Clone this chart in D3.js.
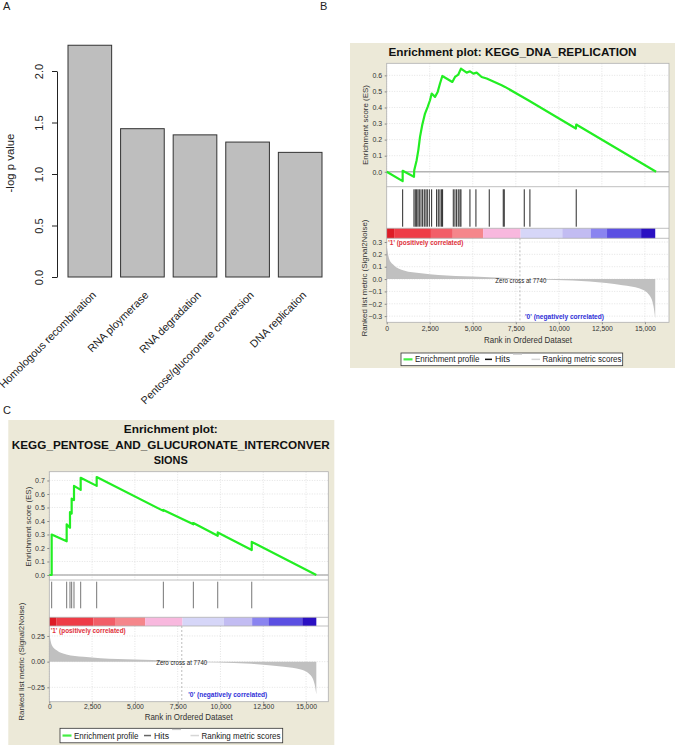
<!DOCTYPE html>
<html><head><meta charset="utf-8">
<script src="https://cdn.jsdelivr.net/npm/d3@7"></script>
<style>
body{margin:0;background:#fff}
svg{display:block;font-family:Arial,"Liberation Sans",Helvetica,sans-serif}
</style>
</head><body>
<svg id="c" width="675" height="745"></svg>
<script>
// ---------- Panel A data ----------
const categories = ["Homologous recombination","RNA ploymerase","RNA degradation","Pentose/glucoronate conversion","DNA replication"];
const negLogP = [2.25, 1.44, 1.38, 1.31, 1.21];
const yTicksA = [0, 0.5, 1.0, 1.5, 2.0];

// ---------- shared GSEA data ----------
const rankTicks = [0, 2500, 5000, 7500, 10000, 12500, 15000];
const metricRank = [0, 150, 430, 1000, 2000, 3000, 5000, 7000, 7740, 9800, 11800, 13700, 14700, 15250, 15500, 15600];
const metricVal  = [0.27, 0.16, 0.11, 0.07, 0.047, 0.033, 0.02, 0.008, 0, -0.008, -0.02, -0.05, -0.077, -0.13, -0.22, -0.32];
const zeroCross = 7740;
const bandEdges  = [0, 430, 2570, 3840, 5600, 7780, 10200, 11850, 12800, 14780, 15600];
const bandColors = ["#dd1c26","#ee3c47","#f25e68","#f5868b","#f8b8de","#d6d6f8","#c2bcf2","#8a84f0","#5b4fe2","#2a10c2"];

// ---------- Panel B data (KEGG_DNA_REPLICATION) ----------
const esTicksB = [0.0, 0.1, 0.2, 0.3, 0.4, 0.5, 0.6];
const metricTicksB = [-0.3, -0.2, -0.1, 0.0, 0.1, 0.2, 0.3];
const hitsB = [927,1585,1662,1740,1817,1895,1992,2088,2185,2282,2359,2475,2610,2900,2997,3094,3190,3248,3868,3965,4062,4158,4255,4313,4836,5184,5958,6771,6829,7991,8320,11010];
const esRankB = [0,927,927,1585,1600,1740,1838,1935,2070,2226,2381,2516,2613,2807,2961,3097,3232,3813,3968,4162,4313,4646,4840,5034,5227,5517,5808,6680,6873,8224,10990,11010,15650];
const esValB  = [0,-0.058,0.006,-0.031,0.01,0.072,0.135,0.217,0.294,0.362,0.404,0.445,0.487,0.466,0.497,0.549,0.596,0.559,0.590,0.605,0.642,0.617,0.625,0.611,0.617,0.590,0.580,0.538,0.528,0.445,0.269,0.294,0];

// ---------- Panel C data (KEGG_PENTOSE_AND_GLUCURONATE_INTERCONVERSIONS) ----------
const esTicksC = [0.0, 0.1, 0.2, 0.3, 0.4, 0.5, 0.6, 0.7];
const metricTicksC = [-0.25, 0.0, 0.25];
const hitsC = [138,1015,1209,1307,1443,1833,2768,6663,8416,9840,11827];
const esRankC = [0,138,138,1015,1015,1209,1209,1307,1307,1443,1443,1833,1833,2768,2768,6663,6663,8416,8416,9840,9840,11827,11827,15600];
const esValC  = [0,0,0.30,0.25,0.375,0.35,0.465,0.455,0.565,0.555,0.66,0.63,0.72,0.66,0.725,0.475,0.482,0.375,0.385,0.29,0.315,0.185,0.245,0];

const svg = d3.select("#c");

function T(g, x, y, s, o = {}) {
  const t = g.append("text").attr("x", x).attr("y", y).text(s)
    .attr("font-size", o.size || 8).attr("fill", o.fill || "#222")
    .attr("text-anchor", o.anchor || "start");
  if (o.weight) t.attr("font-weight", o.weight);
  if (o.len) t.attr("textLength", o.len).attr("lengthAdjust", "spacingAndGlyphs");
  if (o.rot) t.attr("transform", `rotate(${o.rot},${x},${y})`);
  if (o.dy) t.attr("dy", o.dy);
  return t;
}

// ================= Panel A =================
(function () {
  const g = svg.append("g");
  T(g, 3, 10, "A", {size: 11});
  const x = d3.scaleBand().domain(categories).range([68, 322]).paddingInner(0.17).paddingOuter(0);
  const y = d3.scaleLinear().domain([0, 2]).range([277, 71]);
  g.selectAll("rect.bar").data(categories).join("rect").attr("class", "bar")
    .attr("x", d => x(d)).attr("width", x.bandwidth())
    .attr("y", (d, i) => y(negLogP[i])).attr("height", (d, i) => y(0) - y(negLogP[i]))
    .attr("fill", "#bebebe").attr("stroke", "#333").attr("stroke-width", 1);
  const ax = g.append("g").attr("transform", "translate(57,0)")
    .call(d3.axisLeft(y).tickValues(yTicksA).tickFormat(d3.format(".1f")).tickSize(5).tickSizeOuter(0));
  ax.select(".domain").attr("stroke", "#222");
  ax.selectAll(".tick line").attr("stroke", "#222");
  ax.selectAll(".tick text").attr("transform", "rotate(-90)").attr("x", 0).attr("y", -14).attr("dy", 0)
    .attr("text-anchor", "middle").attr("font-size", 11).attr("fill", "#222").attr("font-family", null);
  T(g, 14, 163, "-log p value", {size: 11.4, anchor: "middle", rot: -90});
  categories.forEach(c => {
    const cx = x(c) + x.bandwidth() / 2 + 3;
    T(g, cx, 292, c, {size: 10.8, anchor: "end", rot: -45, dy: "0.5em"});
  });
  T(g, 320, 10, "B", {size: 11});
  T(g, 3, 414, "C", {size: 11});
})();

// ================= GSEA panels =================
function gsea(o) {
  const g = svg.append("g");
  g.append("rect").attr("x", o.box[0]).attr("y", o.box[1]).attr("width", o.box[2]).attr("height", o.box[3]).attr("fill", "#ece9d8");
  o.title.forEach((t, i) => T(g, o.titleX, o.titleY[i], t, {size: 11.7, weight: "bold", anchor: "middle", fill: "#111", len: o.titleLen[i]}));

  const x = d3.scaleLinear().domain([0, o.xMax]).range([o.L, o.R]);
  const yE = d3.scaleLinear().domain(o.esDom).range([o.esBot, o.esTop]);
  const yM = d3.scaleLinear().domain(o.mDom).range([o.mBot, o.barBot]);

  g.append("rect").attr("x", o.L).attr("y", o.esTop).attr("width", o.R - o.L).attr("height", o.mBot - o.esTop)
    .attr("fill", "#fff");

  const grid = g.append("g").attr("stroke", "#d8d8d8").attr("stroke-width", 0.7).attr("stroke-dasharray", "1,1.5");
  rankTicks.forEach(t => {
    grid.append("line").attr("x1", x(t)).attr("x2", x(t)).attr("y1", o.esTop).attr("y2", o.esBot);
    grid.append("line").attr("x1", x(t)).attr("x2", x(t)).attr("y1", o.barBot).attr("y2", o.mBot);
  });
  o.esTicks.forEach(t => grid.append("line").attr("x1", o.L).attr("x2", o.R).attr("y1", yE(t)).attr("y2", yE(t)));
  o.mTicks.forEach(t => grid.append("line").attr("x1", o.L).attr("x2", o.R).attr("y1", yM(t)).attr("y2", yM(t)));

  // ES zero line
  g.append("line").attr("x1", o.L).attr("x2", o.R).attr("y1", yE(0)).attr("y2", yE(0)).attr("stroke", "#b4b4b4").attr("stroke-width", 1.5);

  // metric area
  const area = d3.area().x((d, i) => x(metricRank[i])).y0(yM(0)).y1((d, i) => yM(d)).curve(d3.curveMonotoneX);
  g.append("path").datum(metricVal).attr("d", area).attr("fill", "#c0c0c0");

  // zero cross dashed line
  g.append("line").attr("x1", x(zeroCross)).attr("x2", x(zeroCross)).attr("y1", o.barBot).attr("y2", o.mBot)
    .attr("stroke", "#aaa").attr("stroke-width", 0.8).attr("stroke-dasharray", "2,2");

  // color bar
  bandColors.forEach((c, i) => {
    g.append("rect").attr("x", x(bandEdges[i])).attr("width", x(bandEdges[i + 1]) - x(bandEdges[i]))
      .attr("y", o.barTop).attr("height", o.barBot - o.barTop).attr("fill", c);
  });

  // hits
  g.append("g").selectAll("line").data(o.hits).join("line")
    .attr("x1", d => x(d)).attr("x2", d => x(d)).attr("y1", o.hitTop).attr("y2", o.hitBot)
    .attr("stroke", o.hitColor).attr("stroke-width", 0.9);

  // panel separators and frame
  const sep = g.append("g").attr("stroke", "#b0b0b0").attr("stroke-width", 0.8).attr("fill", "none");
  sep.append("rect").attr("x", o.L).attr("y", o.esTop).attr("width", o.R - o.L).attr("height", o.mBot - o.esTop);
  [o.esBot, o.barTop, o.barBot].forEach(yy => sep.append("line").attr("x1", o.L).attr("x2", o.R).attr("y1", yy).attr("y2", yy));

  // ES line
  const line = d3.line().x((d, i) => x(o.esRank[i])).y(d => yE(d));
  g.append("path").datum(o.esVal).attr("d", line).attr("fill", "none").attr("stroke", "#22ee22")
    .attr("stroke-width", 2.2).attr("stroke-linejoin", "round");

  // axes
  const styleAx = (a, size) => {
    a.select(".domain").remove();
    a.selectAll(".tick line").attr("stroke", "#888");
    a.selectAll(".tick text").attr("font-size", size).attr("fill", "#333").attr("font-family", null);
  };
  const axE = g.append("g").attr("transform", `translate(${o.L},0)`)
    .call(d3.axisLeft(yE).tickValues(o.esTicks).tickFormat(d3.format(".1f")).tickSize(2).tickPadding(2.5));
  styleAx(axE, 7);
  const axM = g.append("g").attr("transform", `translate(${o.L},0)`)
    .call(d3.axisLeft(yM).tickValues(o.mTicks).tickFormat(d3.format(o.mFmt)).tickSize(2).tickPadding(2.5));
  styleAx(axM, 7);
  const axX = g.append("g").attr("transform", `translate(0,${o.mBot})`)
    .call(d3.axisBottom(x).tickValues(rankTicks).tickFormat(d3.format(",")).tickSize(2).tickPadding(o.xPad));
  styleAx(axX, 6.8);

  // labels
  T(g, o.esLab[0], o.esLab[1], "Enrichment score (ES)", {size: 8, anchor: "middle", rot: -90, fill: "#333", len: 80});
  T(g, o.mLab[0], o.mLab[1], "Ranked list metric (Signal2Noise)", {size: 8, anchor: "middle", rot: -90, fill: "#333", len: o.mLabLen});
  T(g, o.xLab[0], o.xLab[1], "Rank in Ordered Dataset", {size: 9, anchor: "middle", fill: "#333", len: 88});
  T(g, o.pos[0], o.pos[1], "'1' (positively correlated)", {size: 7, fill: "#e0303a", len: 75, weight: "bold"});
  T(g, o.zc[0], o.zc[1], "Zero cross at 7740", {size: 6.5, anchor: "middle", fill: "#222", len: 51});
  T(g, o.neg[0], o.neg[1], "'0' (negatively correlated)", {size: 7, fill: "#3030d8", len: 79, weight: "bold"});

  // legend
  const [lx, ly, lw, lh] = o.leg;
  const lg = g.append("g");
  lg.append("rect").attr("x", lx).attr("y", ly).attr("width", lw).attr("height", lh).attr("fill", "#fff").attr("stroke", "#333").attr("stroke-width", 0.8);
  const my = ly + lh / 2;
  lg.append("line").attr("x1", lx + 2.5).attr("x2", lx + 11.5).attr("y1", my).attr("y2", my).attr("stroke", "#44ee44").attr("stroke-width", 2.2);
  T(lg, lx + 14, my + 3, "Enrichment profile", {size: 8.5, fill: "#222", len: 64.5});
  lg.append("line").attr("x1", lx + 84).attr("x2", lx + 91).attr("y1", my).attr("y2", my).attr("stroke", o.hitColor).attr("stroke-width", 1.5);
  T(lg, lx + 94, my + 3, "Hits", {size: 8.5, fill: "#222", len: 15});
  lg.append("line").attr("x1", lx + 112).attr("x2", lx + 121).attr("y1", ly + 1.2).attr("y2", ly + 1.2).attr("stroke", "#ccc").attr("stroke-width", 1.2);
  lg.append("line").attr("x1", lx + 130.5).attr("x2", lx + 139).attr("y1", my).attr("y2", my).attr("stroke", "#d6d6d6").attr("stroke-width", 1.5);
  T(lg, lx + 141.5, my + 3, "Ranking metric scores", {size: 8.5, fill: "#222", len: 79});
}

// Panel B
gsea({
  box: [350, 43, 325, 325],
  title: ["Enrichment plot: KEGG_DNA_REPLICATION"], titleX: 512.5, titleY: [56], titleLen: [248],
  L: 386.7, R: 669, esTop: 63.3, esBot: 186.7, hitTop: 189.3, hitBot: 226.7, barTop: 228.3, barBot: 238.3, mBot: 322.3,
  xMax: 16400, esDom: [-0.093, 0.675], mDom: [-0.35, 0.33],
  esTicks: esTicksB, mTicks: metricTicksB, mFmt: ".1f",
  hits: hitsB, hitColor: "#111", esRank: esRankB, esVal: esValB, xPad: 2,
  esLab: [368, 125], mLab: [366.5, 278], mLabLen: 117, xLab: [528, 343],
  pos: [388.3, 244.5], zc: [520.8, 282.5], neg: [525, 319],
  leg: [401, 353, 221.7, 12.7]
});

// Panel C
gsea({
  box: [8.3, 420, 326, 325],
  title: ["Enrichment plot:", "KEGG_PENTOSE_AND_GLUCURONATE_INTERCONVER", "SIONS"], titleX: 170.8,
  titleY: [433.3, 449.3, 464.3], titleLen: [94, 318, 34],
  L: 49.3, R: 328.3, esTop: 471.7, esBot: 580, hitTop: 581.7, hitBot: 608.3, barTop: 617.3, barBot: 626, mBot: 701.7,
  xMax: 16300, esDom: [-0.037, 0.765], mDom: [-0.39, 0.347],
  esTicks: esTicksC, mTicks: metricTicksC, mFmt: ".2f",
  hits: hitsC, hitColor: "#666", esRank: esRankC, esVal: esValC, xPad: 0.8,
  esLab: [31, 526.7], mLab: [24.5, 661.7], mLabLen: 118, xLab: [188.7, 720],
  pos: [50.7, 632.5], zc: [181.7, 664.8], neg: [188.3, 696.8],
  leg: [60, 728.3, 222.7, 14.5]
});
</script>
</body></html>
